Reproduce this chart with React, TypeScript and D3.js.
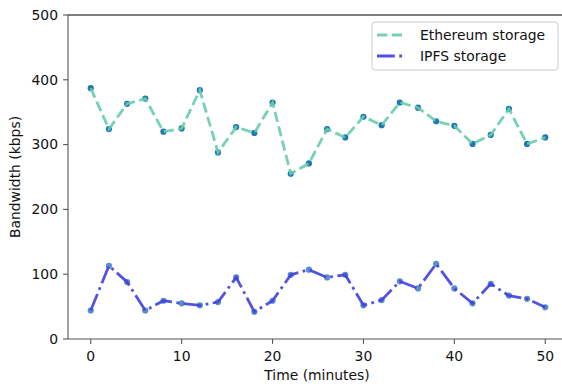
import * as d3 from "d3";
import React, { useEffect, useRef } from "react";

const times = d3.range(0, 51, 2);
const ethereum = [387, 324, 363, 371, 320, 325, 384, 288, 327, 318, 365, 255, 271,
  324, 311, 343, 330, 365, 357, 336, 329, 301, 315, 355, 301, 311];
const ipfs = [44, 113, 88, 44, 59, 55, 52, 57, 95, 42, 59, 99, 107,
  95, 99, 52, 60, 89, 78, 116, 78, 55, 85, 67, 62, 49];
const xTicks = [0, 10, 20, 30, 40, 50];
const yTicks = [0, 100, 200, 300, 400, 500];
const seriesNames = ["Ethereum storage", "IPFS storage"];

const App: React.FC = () => {
  const ref = useRef<SVGSVGElement>(null);

  useEffect(() => {
    const width = 562;
    const height = 387;
    const left = 68, top = 15, bottom = 339, right = 568;
    const font = "DejaVu Sans, sans-serif";
    const spine = "#555";
    const ink = "#111";

    const svg = d3.select(ref.current);
    svg.selectAll("*").remove();

    const x = d3.scaleLinear().domain([-2.5, 52.5]).range([left, right]);
    const y = d3.scaleLinear().domain([0, 500]).range([bottom, top]);

    const lw = 2.78;
    const series = [
      { name: seriesNames[0], values: ethereum, color: "#66cdaa", dash: `${3.7 * lw},${1.6 * lw}`, dot: "#1f77b4" },
      { name: seriesNames[1], values: ipfs, color: "#3f3fe0", dash: `${6.4 * lw},${1.6 * lw},${1 * lw},${1.6 * lw}`, dot: "#5b8ec8" },
    ];

    const line = d3.line<number>()
      .x((_, i) => x(times[i]))
      .y(d => y(d));

    series.forEach(s => {
      svg.append("g")
        .selectAll("circle")
        .data(s.values)
        .join("circle")
        .attr("cx", (_, i) => x(times[i]))
        .attr("cy", d => y(d))
        .attr("r", 3.1)
        .attr("fill", s.dot);

      svg.append("path")
        .datum(s.values)
        .attr("fill", "none")
        .attr("stroke", s.color)
        .attr("stroke-width", lw)
        .attr("stroke-dasharray", s.dash)
        .attr("opacity", 0.9)
        .attr("d", line);
    });

    // spines
    svg.append("line").attr("x1", left).attr("x2", width).attr("y1", top).attr("y2", top)
      .attr("stroke", "#000").attr("stroke-width", 1.1);
    svg.append("line").attr("x1", left).attr("x2", left).attr("y1", top).attr("y2", bottom)
      .attr("stroke", spine).attr("stroke-width", 1.1);
    svg.append("line").attr("x1", left).attr("x2", width).attr("y1", bottom).attr("y2", bottom)
      .attr("stroke", spine).attr("stroke-width", 1.1);

    // x ticks
    const xt = svg.append("g").selectAll("g").data(xTicks).join("g")
      .attr("transform", d => `translate(${x(d)},${bottom})`);
    xt.append("line").attr("y2", 4.9).attr("stroke", spine).attr("stroke-width", 1.1);
    xt.append("text").attr("y", 22).attr("text-anchor", "middle")
      .attr("font-family", font).attr("font-size", 13.9).attr("fill", ink)
      .text(d => d);

    // y ticks
    const yt = svg.append("g").selectAll("g").data(yTicks).join("g")
      .attr("transform", d => `translate(${left},${y(d)})`);
    yt.append("line").attr("x2", -4.9).attr("stroke", spine).attr("stroke-width", 1.1);
    yt.append("text").attr("x", -10).attr("dy", "0.35em").attr("text-anchor", "end")
      .attr("font-family", font).attr("font-size", 13.9).attr("fill", ink)
      .text(d => d);

    svg.append("text")
      .attr("x", 317).attr("y", 380).attr("text-anchor", "middle")
      .attr("font-family", font).attr("font-size", 13.9).attr("fill", ink)
      .text("Time (minutes)");

    svg.append("text")
      .attr("transform", `translate(20,177) rotate(-90)`).attr("text-anchor", "middle")
      .attr("font-family", font).attr("font-size", 13.9).attr("fill", ink)
      .text("Bandwidth (kbps)");

    // legend
    const lg = svg.append("g");
    lg.append("rect")
      .attr("x", 372).attr("y", 22).attr("width", 186).attr("height", 48).attr("rx", 3)
      .attr("fill", "#fff").attr("fill-opacity", 0.8)
      .attr("stroke", "#ccc").attr("stroke-width", 1);
    series.forEach((s, i) => {
      const ly = 35 + i * 21;
      lg.append("line")
        .attr("x1", 377).attr("x2", 405).attr("y1", ly).attr("y2", ly)
        .attr("stroke", s.color).attr("stroke-width", lw)
        .attr("stroke-dasharray", s.dash).attr("opacity", 0.9);
      lg.append("text")
        .attr("x", 420).attr("y", ly).attr("dy", "0.35em")
        .attr("font-family", font).attr("font-size", 13.9).attr("fill", ink)
        .text(s.name);
    });

    svg.attr("width", width).attr("height", height);
  }, []);

  return (
    <svg ref={ref} width={562} height={387}
      style={{ position: "absolute", left: 0, top: 0, background: "#fff" }} />
  );
};

export default App;
